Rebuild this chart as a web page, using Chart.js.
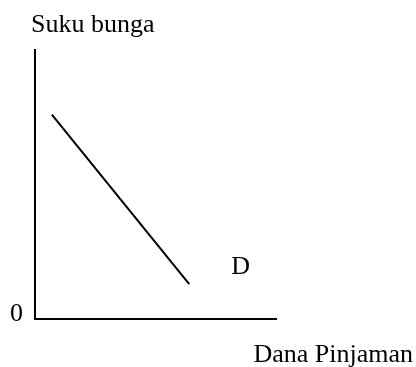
<!DOCTYPE html>
<html>
<head>
<meta charset="utf-8">
<script src="https://cdn.jsdelivr.net/npm/chart.js@4/dist/chart.umd.min.js"></script>
<style>
  html, body { margin: 0; padding: 0; background: #ffffff; }
  canvas { display: block; }
</style>
</head>
<body>
<canvas id="c" width="416" height="367"></canvas>
<script>
// Demand curve for loanable funds (interest rate vs. amount borrowed)
const curveName = 'D';
const danaPinjaman = [0.7, 6.4];   // quantity of loanable funds
const sukuBunga = [7.6, 1.3];      // interest rate
const axisTitleX = 'Dana Pinjaman';
const axisTitleY = 'Suku bunga';
const originLabel = '0';

const FONT = '26px "Liberation Serif", "Times New Roman", serif';

const labelsPlugin = {
  id: 'diagramLabels',
  afterDraw(chart) {
    const { ctx, chartArea } = chart;
    const xs = chart.scales.x, ys = chart.scales.y;
    ctx.save();
    ctx.font = FONT;
    ctx.fillStyle = '#000';
    ctx.textBaseline = 'alphabetic';

    // vertical axis title above the axis
    ctx.textAlign = 'left';
    ctx.fillText(axisTitleY, chartArea.left - 4, chartArea.top - 18);

    // origin
    ctx.textAlign = 'right';
    ctx.fillText(originLabel, chartArea.left - 12, chartArea.bottom + 2);

    // curve name beside the lower end of the line
    const last = danaPinjaman.length - 1;
    const px = xs.getPixelForValue(danaPinjaman[last]);
    const py = ys.getPixelForValue(sukuBunga[last]);
    ctx.textAlign = 'left';
    ctx.fillText(curveName, px + 42, py - 10);

    // horizontal axis title below, right side
    ctx.textAlign = 'right';
    ctx.fillText(axisTitleX, chart.width - 3, chartArea.bottom + 43);
    ctx.restore();
  }
};

new Chart(document.getElementById('c'), {
  type: 'scatter',
  data: {
    datasets: [{
      label: curveName,
      data: danaPinjaman.map((x, i) => ({ x, y: sukuBunga[i] })),
      showLine: true,
      borderColor: '#000',
      borderWidth: 2,
      pointRadius: 0,
      pointHoverRadius: 0
    }]
  },
  options: {
    responsive: false,
    animation: false,
    devicePixelRatio: 1,
    layout: { padding: { left: 35, top: 50, right: 140, bottom: 48 } },
    plugins: { legend: { display: false }, tooltip: { enabled: false } },
    scales: {
      x: {
        type: 'linear', min: 0, max: 10,
        grid: { display: false, drawTicks: false },
        border: { display: true, color: '#000', width: 2 },
        ticks: { display: false }
      },
      y: {
        type: 'linear', min: 0, max: 10,
        grid: { display: false, drawTicks: false },
        border: { display: true, color: '#000', width: 2 },
        ticks: { display: false }
      }
    }
  },
  plugins: [labelsPlugin]
});
</script>
</body>
</html>
